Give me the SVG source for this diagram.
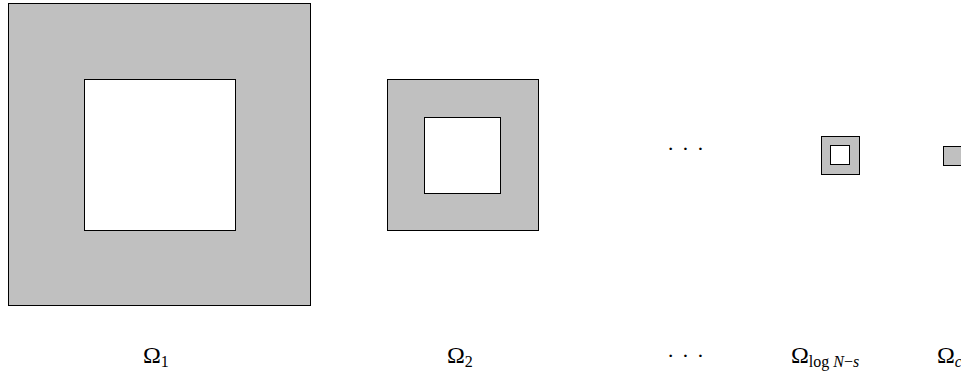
<svg xmlns="http://www.w3.org/2000/svg" width="961" height="375" viewBox="0 0 961 375">
<style>
.o{fill:#c0c0c0;stroke:#000;stroke-width:1}
.i{fill:#fff;stroke:#000;stroke-width:1}
text{font-family:"Liberation Serif","DejaVu Serif",serif;fill:#000}
.m{font-size:24px}
.s{font-size:16px}
.d{font-size:22px;letter-spacing:1px}
</style>
<g id="omega1">
<rect class="o" x="8.5" y="3.5" width="302" height="302"/>
<rect class="i" x="84.5" y="79.5" width="151" height="151"/>
<text class="m" x="143" y="363">Ω<tspan class="s" dy="4">1</tspan></text>
</g>
<g id="omega2">
<rect class="o" x="387.5" y="79.5" width="151" height="151"/>
<rect class="i" x="424.5" y="117.5" width="76" height="76"/>
<text class="m" x="447" y="363">Ω<tspan class="s" dy="4">2</tspan></text>
</g>
<g id="dots">
<text class="d" x="686" y="156" text-anchor="middle">· · ·</text>
<text class="d" x="686" y="363" text-anchor="middle">· · ·</text>
</g>
<g id="omegalog">
<rect class="o" x="821.5" y="136.5" width="38" height="38"/>
<rect class="i" x="830.5" y="145.5" width="19" height="19"/>
<text class="m" x="791" y="363">Ω<tspan class="s" dy="4">log <tspan font-style="italic">N</tspan>−<tspan font-style="italic">s</tspan></tspan></text>
</g>
<g id="omegac">
<rect class="o" x="943.5" y="146.5" width="19" height="19"/>
<text class="m" x="937" y="363">Ω<tspan class="s" dy="4" font-style="italic">c</tspan></text>
</g>
</svg>
